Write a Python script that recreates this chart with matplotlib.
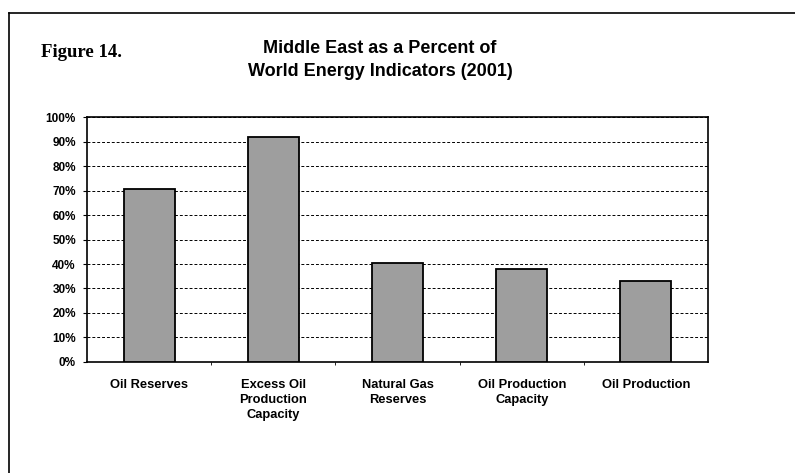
import numpy as np
import matplotlib
matplotlib.use("Agg")
import matplotlib.pyplot as plt
from matplotlib.lines import Line2D

# data
categories = ["Oil Reserves", "Excess Oil\nProduction\nCapacity", "Natural Gas\nReserves",
              "Oil Production\nCapacity", "Oil Production"]
percent = [70.5, 92, 40.5, 38, 33]
yticks = [0, 10, 20, 30, 40, 50, 60, 70, 80, 90, 100]

plt.rcParams['font.family'] = ['Liberation Sans', 'DejaVu Sans']

fig = plt.figure(figsize=(7.95, 4.73), dpi=100)
ax = fig.add_axes([0.1094, 0.2347, 0.7812, 0.5179])

x = np.arange(len(categories))
ax.bar(x, percent, width=0.41, color='#9e9e9e', edgecolor='black', linewidth=1.3, zorder=3)

ax.set_xlim(-0.5, len(categories) - 0.5)
ax.set_ylim(0, 100)
ax.set_yticks(yticks)
ax.set_yticklabels([f"{v}%" for v in yticks], fontsize=8.5, fontweight='bold')
ax.yaxis.grid(True, linestyle=(0, (3, 2)), color='black', linewidth=0.7)
ax.set_axisbelow(True)

ax.set_xticks(x)
ax.set_xticklabels(categories, fontsize=9.3, fontweight='bold', linespacing=1.35)
ax.tick_params(axis='x', length=0, pad=12)
ax.set_xticks(np.arange(0.5, len(categories) - 1, 1), minor=True)
ax.tick_params(axis='x', which='minor', length=2, direction='out')
ax.tick_params(axis='y', length=3, direction='out', pad=5)

for s in ax.spines.values():
    s.set_linewidth(1.2)
    s.set_color('black')

fig.text(0.478, 0.873, "Middle East as a Percent of\nWorld Energy Indicators (2001)",
         ha='center', va='center', fontsize=13, fontweight='bold', linespacing=1.45)
fig.text(0.051, 0.89, "Figure 14.", ha='left', va='center', fontsize=13.5,
         fontweight='bold', family=['Liberation Serif', 'DejaVu Serif'])

# frame of the scanned page
fig.add_artist(Line2D([9 / 795, 1.0], [1 - 13 / 473, 1 - 13 / 473], color='black', linewidth=1.2))
fig.add_artist(Line2D([9 / 795, 9 / 795], [0.0, 1 - 13 / 473], color='black', linewidth=1.2))

fig.savefig("out.png", dpi=100)
